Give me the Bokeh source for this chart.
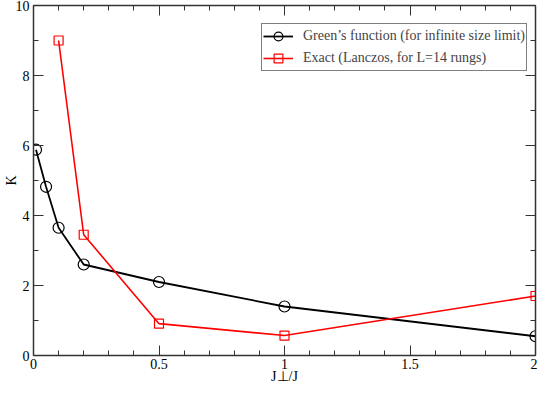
from bokeh.plotting import figure
from bokeh.models import (Range1d, SingleIntervalTicker, LinearAxis, NumeralTickFormatter,
                          CustomJSTickFormatter, Legend, LegendItem)
from bokeh.embed import file_html
from bokeh.resources import INLINE

# data
green_x = [0.01, 0.05, 0.1, 0.2, 0.5, 1.0, 2.0]
green_k = [5.88, 4.82, 3.65, 2.60, 2.10, 1.40, 0.55]
exact_x = [0.1, 0.2, 0.5, 1.0, 2.0]
exact_k = [9.0, 3.45, 0.91, 0.57, 1.70]
green_label = "Green\u2019s function (for infinite size limit)"
exact_label = "Exact (Lanczos, for L=14 rungs)"
x_title = "J\u22a5/J"
y_title = "K"

FONT = "Liberation Serif"
AX = "#333333"

p = figure(width=537, height=386, output_backend="svg", toolbar_location=None,
           x_range=Range1d(0, 2), y_range=Range1d(0, 10),
           x_axis_type=None, y_axis_type=None,
           min_border_left=0, min_border_right=2, min_border_top=5, min_border_bottom=0)
p.outline_line_color = None
p.grid.visible = False
p.background_fill_color = "white"
p.border_fill_color = "white"

xt = SingleIntervalTicker(interval=0.5, num_minor_ticks=5)
yt = SingleIntervalTicker(interval=2, num_minor_ticks=2)


def style(ax, labels=True):
    ax.axis_line_color = AX
    ax.axis_line_width = 1.5
    ax.major_tick_line_color = AX
    ax.minor_tick_line_color = AX
    ax.major_tick_in = 10
    ax.major_tick_out = 0
    ax.minor_tick_in = 5
    ax.minor_tick_out = 0
    if labels:
        ax.major_label_text_font = FONT
        ax.major_label_text_font_size = "14px"
        ax.major_label_text_color = "black"
        ax.axis_label_text_font = FONT
        ax.axis_label_text_font_size = "14px"
        ax.axis_label_text_font_style = "normal"
        ax.axis_label_text_color = "black"
    else:
        ax.major_label_standoff = 0


xb = LinearAxis(ticker=xt, formatter=NumeralTickFormatter(format="0.[0]"), axis_label=x_title)
style(xb)
xb.major_label_standoff = 3
xb.axis_label_standoff = -3
yl = LinearAxis(ticker=yt, formatter=NumeralTickFormatter(format="0"), axis_label=y_title)
style(yl)
yl.major_label_standoff = 4
yl.axis_label_standoff = -6
xa = LinearAxis(ticker=xt, formatter=CustomJSTickFormatter(code="return ''"))
style(xa, labels=False)
yr = LinearAxis(ticker=yt, formatter=CustomJSTickFormatter(code="return ''"))
style(yr, labels=False)
p.add_layout(xb, "below")
p.add_layout(yl, "left")
p.add_layout(xa, "above")
p.add_layout(yr, "right")

g_line = p.line(green_x, green_k, line_color="black", line_width=1.8)
g_pts = p.scatter(green_x, green_k, marker="circle", size=11, fill_color=None,
                  line_color="black", line_width=1.2)
e_line = p.line(exact_x, exact_k, line_color="#ff0000", line_width=1.6)
e_pts = p.scatter(exact_x, exact_k, marker="square", size=9, fill_color=None,
                  line_color="#ff0000", line_width=1.2)

legend = Legend(items=[LegendItem(label=green_label, renderers=[g_line, g_pts]),
                       LegendItem(label=exact_label, renderers=[e_line, e_pts])],
                location=(228, 284))
legend.border_line_color = "black"
legend.border_line_width = 1
legend.background_fill_alpha = 1
legend.label_text_font = FONT
legend.label_text_font_size = "14px"
legend.glyph_width = 30
legend.glyph_height = 22
legend.label_height = 16
legend.spacing = -6
legend.padding = 1
legend.label_standoff = 10
legend.margin = 0
p.add_layout(legend, "center")

open("out.html", "w").write(file_html(p, INLINE))
